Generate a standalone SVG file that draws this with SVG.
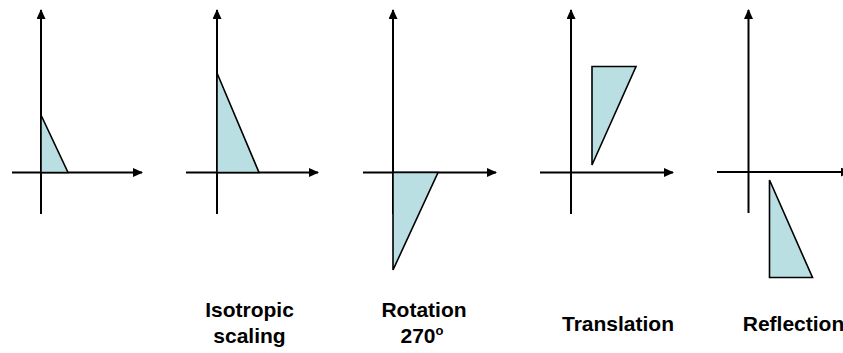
<svg xmlns="http://www.w3.org/2000/svg" width="843" height="353" viewBox="0 0 843 353">
  <defs>
    <marker id="arr" markerUnits="userSpaceOnUse" markerWidth="10" markerHeight="9" refX="9" refY="4.5" orient="auto">
      <path d="M0,0 L10,4.5 L0,9 z" fill="#000"/>
    </marker>
    <style>
      .axis { stroke: #000; stroke-width: 2; fill: none; marker-end: url(#arr); }
      .axis-plain { stroke: #000; stroke-width: 2; fill: none; }
      .tri { fill: #B9DFE3; stroke: #000; stroke-width: 1.6; stroke-linejoin: miter; }
      .lbl { font-family: "Liberation Sans", Arial, sans-serif; font-weight: bold; font-size: 21px; fill: #000; text-anchor: middle; }
    </style>
  </defs>
  <rect width="843" height="353" fill="#fff"/>

  <g id="panel-original">
    <line class="axis" x1="41" y1="214" x2="41" y2="10"/>
    <line class="axis" x1="12" y1="172.5" x2="142" y2="172.5"/>
    <polygon class="tri" points="41,115 41,172.5 68,172.5"/>
  </g>

  <g id="panel-scaling">
    <line class="axis" x1="217" y1="214" x2="217" y2="10"/>
    <line class="axis" x1="186" y1="172.5" x2="318" y2="172.5"/>
    <polygon class="tri" points="217,73 217,172.5 259,172.5"/>
    <text class="lbl" x="249.5" y="316.5">Isotropic</text>
    <text class="lbl" x="249.5" y="343">scaling</text>
  </g>

  <g id="panel-rotation">
    <line class="axis" x1="393" y1="214" x2="393" y2="10"/>
    <line class="axis" x1="363" y1="172.5" x2="496" y2="172.5"/>
    <polygon class="tri" points="393,172.5 438,172.5 393,270"/>
    <text class="lbl" x="424" y="316.5">Rotation</text>
    <text class="lbl" x="422" y="343">270<tspan font-size="13" dy="-8">o</tspan></text>
  </g>

  <g id="panel-translation">
    <line class="axis" x1="571" y1="214" x2="571" y2="10"/>
    <line class="axis" x1="540" y1="172.5" x2="673" y2="172.5"/>
    <polygon class="tri" points="592,66.5 636,66.5 592,165"/>
    <text class="lbl" x="618" y="331">Translation</text>
  </g>

  <g id="panel-reflection">
    <line class="axis" x1="748.5" y1="213" x2="748.5" y2="10"/>
    <line class="axis" x1="717" y1="172" x2="850" y2="172"/>
    <polygon class="tri" points="769.5,180 769.5,277.5 812.5,277.5"/>
    <text class="lbl" x="793.5" y="331">Reflection</text>
  </g>
</svg>
